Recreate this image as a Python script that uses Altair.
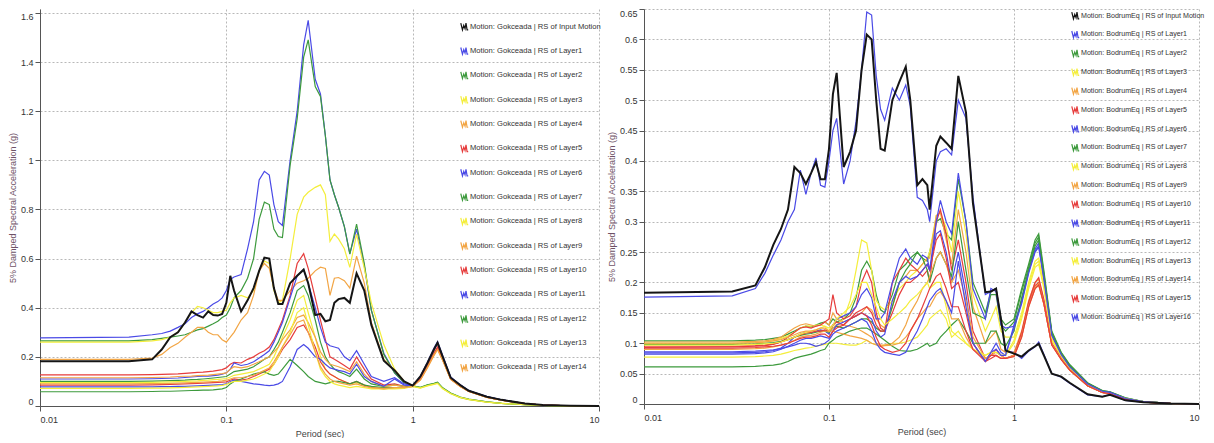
import altair as alt
import pandas as pd

# ---------------- Left panel: Gokceada ----------------
periods_g = [0.01, 0.03, 0.04, 0.045, 0.05, 0.055, 0.06, 0.065, 0.07, 0.075,
             0.08, 0.085, 0.09, 0.095, 0.1, 0.105, 0.11, 0.12, 0.13, 0.14,
             0.15, 0.16, 0.17, 0.18, 0.19, 0.2, 0.22, 0.24, 0.26, 0.275,
             0.3, 0.32, 0.34, 0.36, 0.38, 0.4, 0.43, 0.46, 0.5, 0.55,
             0.6, 0.7, 0.8, 0.9,
             1.0, 1.1, 1.2, 1.3, 1.36, 1.45, 1.6, 1.8, 2.0, 2.5, 3.0, 4.0, 5.0, 7.0, 10.0]

names_g = ["Motion: Gokceada | RS of Input Motion"] + \
          ["Motion: Gokceada | RS of Layer%d" % i for i in range(1, 15)]

input_g = [0.182, 0.182, 0.19, 0.23, 0.28, 0.30, 0.34, 0.385, 0.37, 0.36,
           0.385, 0.37, 0.368, 0.375, 0.42, 0.53, 0.47, 0.385, 0.43, 0.48,
           0.55, 0.604, 0.6, 0.48, 0.415, 0.415, 0.5, 0.53, 0.555, 0.5,
           0.37, 0.375, 0.345, 0.35, 0.42, 0.435, 0.44, 0.42, 0.54, 0.47,
           0.33, 0.184, 0.145, 0.1,
           0.083, 0.12, 0.175, 0.23, 0.258, 0.2, 0.115, 0.085, 0.062, 0.038, 0.025, 0.01, 0.004, 0.001, 0.0]
layer1_g = [0.277, 0.28, 0.29, 0.295, 0.305, 0.32, 0.335, 0.36, 0.375, 0.385,
            0.40, 0.415, 0.425, 0.44, 0.47, 0.515, 0.525, 0.535, 0.64, 0.75,
            0.92, 0.955, 0.94, 0.82, 0.75, 0.735, 1.0, 1.2, 1.47, 1.57,
            1.33, 1.27, 1.1, 0.92, 0.86, 0.81, 0.73, 0.62, 0.72, 0.57,
            0.39, 0.215, 0.135, 0.095,
            0.083, 0.12, 0.178, 0.235, 0.262, 0.205, 0.118, 0.086, 0.063, 0.038, 0.025, 0.01, 0.004, 0.001, 0.0]
layer2_g = [0.265, 0.265, 0.27, 0.275, 0.28, 0.285, 0.29, 0.30, 0.31, 0.315,
            0.325, 0.335, 0.345, 0.36, 0.37, 0.4, 0.44, 0.47, 0.52, 0.6,
            0.76, 0.83, 0.82, 0.72, 0.69, 0.686, 0.98, 1.17, 1.42, 1.49,
            1.3, 1.26, 1.1, 0.92, 0.86, 0.81, 0.73, 0.618, 0.74, 0.58,
            0.39, 0.21, 0.135, 0.095,
            0.082, 0.118, 0.172, 0.228, 0.255, 0.2, 0.114, 0.084, 0.062, 0.037, 0.025, 0.01, 0.004, 0.001, 0.0]
layer3_g = [0.26, 0.26, 0.265, 0.27, 0.28, 0.30, 0.34, 0.38, 0.405, 0.40,
            0.39, 0.38, 0.38, 0.385, 0.39, 0.42, 0.44, 0.45, 0.44, 0.47,
            0.55, 0.59, 0.58, 0.47, 0.42, 0.43, 0.6, 0.78, 0.85, 0.87,
            0.89, 0.9, 0.86, 0.67, 0.70, 0.68, 0.64, 0.564, 0.7, 0.56,
            0.42, 0.25, 0.15, 0.1,
            0.08, 0.11, 0.16, 0.21, 0.235, 0.19, 0.11, 0.08, 0.06, 0.036, 0.024, 0.01, 0.004, 0.001, 0.0]
layer4_g = [0.19, 0.19, 0.195, 0.21, 0.238, 0.255, 0.28, 0.30, 0.32, 0.32,
            0.30, 0.29, 0.29, 0.27, 0.26, 0.28, 0.30, 0.35, 0.38, 0.45,
            0.55, 0.58, 0.56, 0.48, 0.43, 0.43, 0.47, 0.5, 0.51, 0.52,
            0.55, 0.565, 0.56, 0.45, 0.52, 0.523, 0.51, 0.48, 0.61, 0.5,
            0.34, 0.19, 0.145, 0.1,
            0.08, 0.105, 0.155, 0.205, 0.23, 0.185, 0.108, 0.079, 0.059, 0.035, 0.024, 0.01, 0.004, 0.001, 0.0]
layer5_g = [0.127, 0.127, 0.128, 0.129, 0.13, 0.131, 0.133, 0.135, 0.137, 0.138,
            0.14, 0.142, 0.145, 0.148, 0.155, 0.17, 0.178, 0.175, 0.19, 0.2,
            0.215, 0.225, 0.24, 0.27, 0.31, 0.35, 0.45, 0.58, 0.62, 0.56,
            0.44, 0.35, 0.27, 0.2, 0.19, 0.18, 0.165, 0.15, 0.2, 0.15,
            0.11, 0.085, 0.09, 0.08,
            0.082, 0.11, 0.165, 0.215, 0.24, 0.19, 0.11, 0.08, 0.06, 0.036, 0.024, 0.01, 0.004, 0.001, 0.0]
layer6_g = [0.11, 0.11, 0.111, 0.112, 0.113, 0.114, 0.116, 0.118, 0.12, 0.121,
            0.122, 0.124, 0.126, 0.13, 0.135, 0.15, 0.175, 0.165, 0.17, 0.18,
            0.195, 0.21, 0.225, 0.26, 0.3, 0.34, 0.44, 0.53, 0.555, 0.5,
            0.4, 0.32, 0.26, 0.245, 0.24, 0.235, 0.2, 0.185, 0.225, 0.17,
            0.12, 0.1, 0.115, 0.09,
            0.083, 0.118, 0.172, 0.228, 0.255, 0.2, 0.114, 0.084, 0.062, 0.037, 0.025, 0.01, 0.004, 0.001, 0.0]
layer7_g = [0.10, 0.10, 0.101, 0.102, 0.103, 0.104, 0.105, 0.107, 0.108, 0.11,
            0.112, 0.114, 0.116, 0.118, 0.12, 0.13, 0.14, 0.145, 0.15, 0.16,
            0.175, 0.19, 0.2, 0.23, 0.26, 0.3, 0.38, 0.47, 0.49, 0.45,
            0.35, 0.26, 0.2, 0.17, 0.15, 0.14, 0.13, 0.12, 0.15, 0.11,
            0.09, 0.08, 0.085, 0.08,
            0.082, 0.075, 0.085, 0.09, 0.095, 0.072, 0.052, 0.035, 0.027, 0.017, 0.011, 0.005, 0.002, 0.0005, 0.0]
layer8_g = [0.095, 0.095, 0.096, 0.097, 0.098, 0.099, 0.1, 0.101, 0.102, 0.104,
            0.105, 0.107, 0.108, 0.11, 0.112, 0.118, 0.125, 0.13, 0.135, 0.14,
            0.15, 0.16, 0.17, 0.2, 0.24, 0.28, 0.35, 0.43, 0.45, 0.38,
            0.28, 0.2, 0.15, 0.13, 0.12, 0.11, 0.1, 0.09, 0.095, 0.085,
            0.075, 0.07, 0.075, 0.075,
            0.08, 0.073, 0.082, 0.088, 0.092, 0.07, 0.05, 0.034, 0.026, 0.016, 0.011, 0.005, 0.002, 0.0005, 0.0]
layer9_g = [0.115, 0.115, 0.116, 0.117, 0.118, 0.12, 0.121, 0.122, 0.124, 0.125,
            0.126, 0.128, 0.13, 0.132, 0.135, 0.15, 0.16, 0.155, 0.16, 0.17,
            0.18, 0.19, 0.2, 0.22, 0.24, 0.27, 0.31, 0.36, 0.37, 0.34,
            0.28, 0.22, 0.19, 0.17, 0.165, 0.16, 0.15, 0.14, 0.18, 0.13,
            0.1, 0.08, 0.085, 0.08,
            0.08, 0.108, 0.16, 0.21, 0.232, 0.188, 0.11, 0.08, 0.06, 0.036, 0.024, 0.01, 0.004, 0.001, 0.0]
layer10_g = [0.085, 0.085, 0.086, 0.087, 0.088, 0.089, 0.09, 0.091, 0.092, 0.093,
             0.094, 0.095, 0.096, 0.097, 0.098, 0.105, 0.11, 0.105, 0.11, 0.12,
             0.13, 0.14, 0.15, 0.17, 0.2, 0.23, 0.27, 0.32, 0.33, 0.3,
             0.24, 0.18, 0.15, 0.13, 0.12, 0.11, 0.1, 0.09, 0.1, 0.085,
             0.075, 0.07, 0.075, 0.075,
             0.08, 0.11, 0.162, 0.212, 0.238, 0.19, 0.11, 0.08, 0.06, 0.036, 0.024, 0.01, 0.004, 0.001, 0.0]
layer11_g = [0.078, 0.078, 0.078, 0.079, 0.079, 0.08, 0.08, 0.081, 0.082, 0.083,
             0.084, 0.085, 0.086, 0.087, 0.09, 0.1, 0.105, 0.1, 0.095, 0.09,
             0.088, 0.085, 0.083, 0.085, 0.09, 0.1, 0.16, 0.23, 0.25, 0.235,
             0.2, 0.19, 0.17, 0.155, 0.15, 0.145, 0.14, 0.13, 0.17, 0.12,
             0.1, 0.08, 0.11, 0.085,
             0.083, 0.12, 0.175, 0.23, 0.258, 0.2, 0.115, 0.085, 0.062, 0.038, 0.025, 0.01, 0.004, 0.001, 0.0]
layer12_g = [0.058, 0.058, 0.059, 0.06, 0.06, 0.061, 0.062, 0.063, 0.064, 0.065,
             0.065, 0.066, 0.068, 0.07, 0.075, 0.09, 0.1, 0.11, 0.12, 0.13,
             0.135, 0.14, 0.13, 0.125, 0.13, 0.15, 0.19, 0.165, 0.14, 0.12,
             0.1, 0.095, 0.09, 0.095, 0.1, 0.1, 0.095, 0.09, 0.1, 0.085,
             0.08, 0.075, 0.075, 0.075,
             0.082, 0.076, 0.086, 0.092, 0.097, 0.074, 0.053, 0.036, 0.028, 0.017, 0.011, 0.005, 0.002, 0.0005, 0.0]
layer13_g = [0.072, 0.072, 0.073, 0.073, 0.074, 0.075, 0.076, 0.077, 0.078, 0.079,
             0.08, 0.081, 0.082, 0.084, 0.088, 0.095, 0.1, 0.1, 0.105, 0.11,
             0.12, 0.13, 0.14, 0.17, 0.2, 0.24, 0.3, 0.38, 0.4, 0.33,
             0.22, 0.15, 0.12, 0.1, 0.09, 0.085, 0.08, 0.075, 0.08, 0.075,
             0.07, 0.07, 0.07, 0.072,
             0.08, 0.074, 0.083, 0.089, 0.093, 0.071, 0.051, 0.035, 0.027, 0.016, 0.011, 0.005, 0.002, 0.0005, 0.0]
layer14_g = [0.09, 0.09, 0.091, 0.091, 0.092, 0.093, 0.094, 0.095, 0.096, 0.097,
             0.098, 0.099, 0.1, 0.102, 0.105, 0.11, 0.115, 0.115, 0.12, 0.125,
             0.135, 0.145, 0.155, 0.18, 0.21, 0.24, 0.29, 0.34, 0.35, 0.3,
             0.22, 0.16, 0.13, 0.11, 0.1, 0.095, 0.09, 0.085, 0.09, 0.08,
             0.075, 0.072, 0.075, 0.075,
             0.08, 0.106, 0.158, 0.208, 0.23, 0.186, 0.108, 0.079, 0.059, 0.035, 0.024, 0.01, 0.004, 0.001, 0.0]

series_g = [input_g, layer1_g, layer2_g, layer3_g, layer4_g, layer5_g, layer6_g, layer7_g,
            layer8_g, layer9_g, layer10_g, layer11_g, layer12_g, layer13_g, layer14_g]

# ---------------- Right panel: BodrumEq ----------------
periods_b = [0.01, 0.03, 0.04, 0.045, 0.05, 0.055, 0.06, 0.065, 0.07, 0.075,
             0.08, 0.085, 0.09, 0.095, 0.1, 0.105, 0.11, 0.12, 0.13, 0.14,
             0.15, 0.16, 0.17, 0.18, 0.19, 0.2, 0.22, 0.24, 0.26, 0.275,
             0.3, 0.32, 0.34, 0.35, 0.38, 0.4, 0.43, 0.46, 0.5, 0.55,
             0.6, 0.7, 0.75, 0.8, 0.85, 0.9,
             1.0, 1.1, 1.2, 1.3, 1.36, 1.45, 1.6, 1.8, 2.0, 2.5, 3.0, 3.3, 4.0, 5.0, 7.0, 10.0]

names_b = ["Motion: BodrumEq | RS of Input Motion"] + \
          ["Motion: BodrumEq | RS of Layer%d" % i for i in range(1, 17)]

input_b = [0.183, 0.185, 0.195, 0.225, 0.262, 0.288, 0.32, 0.39, 0.38, 0.362,
           0.38, 0.398, 0.37, 0.37, 0.42, 0.51, 0.545, 0.39, 0.415, 0.45,
           0.55, 0.608, 0.6, 0.5, 0.42, 0.417, 0.5, 0.53, 0.555, 0.5,
           0.36, 0.37, 0.36, 0.32, 0.425, 0.44, 0.43, 0.42, 0.54, 0.48,
           0.33, 0.184, 0.185, 0.19, 0.14, 0.088,
           0.083, 0.078, 0.088, 0.095, 0.099, 0.08, 0.05, 0.045, 0.035, 0.016, 0.012, 0.015, 0.006, 0.003, 0.001, 0.0]
layer1_b = [0.176, 0.178, 0.19, 0.215, 0.245, 0.27, 0.3, 0.32, 0.385, 0.345,
            0.38, 0.405, 0.36, 0.357, 0.4, 0.45, 0.47, 0.362, 0.4, 0.465,
            0.55, 0.645, 0.64, 0.54, 0.485, 0.467, 0.52, 0.5, 0.525, 0.49,
            0.34, 0.335, 0.32, 0.30, 0.4, 0.415, 0.42, 0.41, 0.5, 0.47,
            0.34, 0.18, 0.185, 0.19, 0.14, 0.088,
            0.085, 0.075, 0.087, 0.094, 0.102, 0.082, 0.05, 0.044, 0.034, 0.015, 0.012, 0.016, 0.006, 0.003, 0.001, 0.0]
layer2_b = [0.104, 0.104, 0.105, 0.106, 0.108, 0.11, 0.115, 0.12, 0.125, 0.128,
            0.127, 0.13, 0.133, 0.135, 0.13, 0.14, 0.135, 0.14, 0.15, 0.175,
            0.22, 0.235, 0.22, 0.18, 0.155, 0.15, 0.18, 0.22, 0.23, 0.24,
            0.25, 0.24, 0.235, 0.25, 0.3, 0.305, 0.28, 0.27, 0.37, 0.3,
            0.2, 0.15, 0.185, 0.19, 0.14, 0.13,
            0.14, 0.19, 0.23, 0.27, 0.28, 0.22, 0.12, 0.085, 0.065, 0.035, 0.022, 0.02, 0.01, 0.004, 0.001, 0.0]
layer3_b = [0.1, 0.1, 0.101, 0.102, 0.104, 0.108, 0.112, 0.118, 0.125, 0.128,
            0.128, 0.13, 0.13, 0.128, 0.125, 0.13, 0.13, 0.14, 0.17, 0.22,
            0.27, 0.265, 0.22, 0.17, 0.16, 0.155, 0.17, 0.19, 0.2, 0.21,
            0.22, 0.23, 0.24, 0.25, 0.31, 0.315, 0.29, 0.25, 0.35, 0.28,
            0.18, 0.12, 0.14, 0.16, 0.12, 0.11,
            0.11, 0.15, 0.2, 0.235, 0.24, 0.2, 0.11, 0.08, 0.06, 0.032, 0.02, 0.018, 0.009, 0.004, 0.001, 0.0]
layer4_b = [0.102, 0.102, 0.103, 0.104, 0.106, 0.11, 0.118, 0.125, 0.13, 0.132,
            0.13, 0.128, 0.13, 0.135, 0.13, 0.15, 0.14, 0.135, 0.14, 0.145,
            0.15, 0.16, 0.155, 0.14, 0.13, 0.125, 0.16, 0.2, 0.21, 0.22,
            0.22, 0.23, 0.24, 0.24, 0.31, 0.315, 0.27, 0.23, 0.32, 0.25,
            0.16, 0.1, 0.11, 0.12, 0.09, 0.085,
            0.085, 0.12, 0.17, 0.2, 0.205, 0.17, 0.1, 0.075, 0.057, 0.03, 0.019, 0.017, 0.008, 0.003, 0.001, 0.0]
layer5_b = [0.093, 0.094, 0.095, 0.096, 0.098, 0.102, 0.11, 0.118, 0.125, 0.127,
            0.125, 0.128, 0.13, 0.135, 0.14, 0.18, 0.15, 0.14, 0.145, 0.16,
            0.2, 0.22, 0.2, 0.15, 0.125, 0.12, 0.2, 0.22, 0.24, 0.23,
            0.22, 0.21, 0.22, 0.2, 0.3, 0.32, 0.28, 0.22, 0.27, 0.2,
            0.12, 0.075, 0.08, 0.09, 0.08, 0.075,
            0.08, 0.115, 0.165, 0.195, 0.2, 0.165, 0.098, 0.074, 0.056, 0.03, 0.019, 0.017, 0.008, 0.003, 0.001, 0.0]
layer6_b = [0.084, 0.084, 0.085, 0.086, 0.088, 0.092, 0.1, 0.11, 0.115, 0.118,
            0.117, 0.12, 0.122, 0.12, 0.115, 0.13, 0.14, 0.145, 0.15, 0.16,
            0.18, 0.19, 0.175, 0.14, 0.14, 0.15, 0.2, 0.24, 0.255, 0.24,
            0.23, 0.245, 0.24, 0.22, 0.28, 0.285, 0.25, 0.2, 0.25, 0.18,
            0.1, 0.07, 0.085, 0.1, 0.085, 0.08,
            0.13, 0.17, 0.22, 0.255, 0.265, 0.21, 0.115, 0.082, 0.062, 0.033, 0.021, 0.019, 0.009, 0.004, 0.001, 0.0]
layer7_b = [0.098, 0.098, 0.099, 0.1, 0.101, 0.103, 0.106, 0.11, 0.113, 0.115,
            0.116, 0.118, 0.12, 0.12, 0.118, 0.125, 0.128, 0.125, 0.13, 0.135,
            0.14, 0.14, 0.135, 0.125, 0.12, 0.12, 0.16, 0.2, 0.22, 0.23,
            0.25, 0.24, 0.22, 0.2, 0.24, 0.25, 0.23, 0.21, 0.3, 0.22,
            0.15, 0.14, 0.18, 0.18, 0.13, 0.12,
            0.135, 0.185, 0.225, 0.265, 0.275, 0.215, 0.118, 0.084, 0.064, 0.034, 0.022, 0.02, 0.01, 0.004, 0.001, 0.0]
layer8_b = [0.077, 0.077, 0.078, 0.079, 0.08, 0.082, 0.085, 0.088, 0.09, 0.092,
            0.093, 0.095, 0.097, 0.098, 0.1, 0.1, 0.1, 0.098, 0.097, 0.097,
            0.1, 0.105, 0.1, 0.098, 0.095, 0.097, 0.1, 0.1, 0.102, 0.105,
            0.11, 0.12, 0.13, 0.14, 0.15, 0.155, 0.14, 0.11, 0.12, 0.1,
            0.09, 0.08, 0.085, 0.085, 0.08, 0.08,
            0.1, 0.14, 0.19, 0.225, 0.23, 0.19, 0.105, 0.078, 0.058, 0.031, 0.02, 0.018, 0.009, 0.004, 0.001, 0.0]
layer9_b = [0.09, 0.09, 0.091, 0.092, 0.094, 0.097, 0.1, 0.105, 0.11, 0.112,
            0.113, 0.115, 0.118, 0.12, 0.12, 0.125, 0.13, 0.13, 0.128, 0.125,
            0.12, 0.115, 0.11, 0.1, 0.097, 0.097, 0.1, 0.11, 0.13, 0.15,
            0.17, 0.19, 0.2, 0.21, 0.24, 0.25, 0.23, 0.2, 0.22, 0.17,
            0.11, 0.075, 0.08, 0.085, 0.08, 0.075,
            0.078, 0.11, 0.16, 0.19, 0.195, 0.165, 0.098, 0.074, 0.056, 0.03, 0.019, 0.017, 0.008, 0.003, 0.001, 0.0]
layer10_b = [0.095, 0.095, 0.096, 0.097, 0.099, 0.102, 0.106, 0.11, 0.114, 0.117,
             0.118, 0.12, 0.12, 0.122, 0.12, 0.13, 0.135, 0.13, 0.14, 0.15,
             0.155, 0.16, 0.15, 0.13, 0.12, 0.12, 0.15, 0.18, 0.2, 0.2,
             0.21, 0.22, 0.23, 0.22, 0.27, 0.28, 0.24, 0.19, 0.2, 0.15,
             0.1, 0.07, 0.075, 0.08, 0.075, 0.075,
             0.08, 0.118, 0.168, 0.2, 0.208, 0.172, 0.1, 0.075, 0.057, 0.03, 0.019, 0.017, 0.008, 0.003, 0.001, 0.0]
layer11_b = [0.082, 0.082, 0.083, 0.084, 0.086, 0.09, 0.095, 0.1, 0.105, 0.108,
             0.108, 0.11, 0.112, 0.11, 0.108, 0.12, 0.13, 0.135, 0.14, 0.145,
             0.15, 0.145, 0.14, 0.12, 0.11, 0.115, 0.17, 0.2, 0.21, 0.205,
             0.21, 0.22, 0.23, 0.22, 0.3, 0.335, 0.3, 0.28, 0.38, 0.3,
             0.19, 0.14, 0.19, 0.185, 0.13, 0.125,
             0.128, 0.168, 0.218, 0.252, 0.26, 0.208, 0.114, 0.082, 0.062, 0.033, 0.021, 0.019, 0.009, 0.004, 0.001, 0.0]
layer12_b = [0.061, 0.061, 0.062, 0.063, 0.064, 0.066, 0.07, 0.075, 0.078, 0.08,
             0.082, 0.085, 0.088, 0.09, 0.1, 0.105, 0.11, 0.115, 0.12, 0.123,
             0.125, 0.125, 0.12, 0.115, 0.11, 0.105, 0.095, 0.088, 0.087, 0.087,
             0.09, 0.095, 0.1, 0.095, 0.1, 0.11, 0.12, 0.13, 0.14, 0.12,
             0.1, 0.1, 0.12, 0.12, 0.1, 0.095,
             0.12, 0.175, 0.22, 0.26, 0.27, 0.212, 0.116, 0.083, 0.063, 0.034, 0.021, 0.019, 0.009, 0.004, 0.001, 0.0]
layer13_b = [0.097, 0.097, 0.098, 0.099, 0.1, 0.102, 0.106, 0.11, 0.115, 0.118,
             0.12, 0.122, 0.125, 0.128, 0.12, 0.13, 0.14, 0.15, 0.16, 0.18,
             0.2, 0.2, 0.18, 0.16, 0.14, 0.13, 0.14, 0.15, 0.16, 0.17,
             0.18, 0.19, 0.2, 0.19, 0.2, 0.2, 0.16, 0.12, 0.11, 0.1,
             0.09, 0.08, 0.085, 0.085, 0.08, 0.08,
             0.105, 0.145, 0.195, 0.23, 0.235, 0.195, 0.108, 0.079, 0.059, 0.031, 0.02, 0.018, 0.009, 0.004, 0.001, 0.0]
layer14_b = [0.1, 0.1, 0.101, 0.102, 0.104, 0.106, 0.11, 0.114, 0.118, 0.12,
             0.12, 0.122, 0.125, 0.125, 0.12, 0.12, 0.118, 0.115, 0.112, 0.11,
             0.108, 0.105, 0.1, 0.097, 0.095, 0.096, 0.097, 0.1, 0.11, 0.12,
             0.14, 0.15, 0.16, 0.16, 0.18, 0.185, 0.17, 0.14, 0.14, 0.11,
             0.09, 0.075, 0.08, 0.08, 0.075, 0.075,
             0.08, 0.112, 0.162, 0.192, 0.198, 0.166, 0.098, 0.074, 0.056, 0.03, 0.019, 0.017, 0.008, 0.003, 0.001, 0.0]
layer15_b = [0.092, 0.092, 0.093, 0.094, 0.095, 0.097, 0.1, 0.104, 0.108, 0.11,
             0.11, 0.112, 0.115, 0.115, 0.11, 0.12, 0.125, 0.13, 0.14, 0.145,
             0.15, 0.145, 0.13, 0.11, 0.095, 0.09, 0.085, 0.088, 0.1, 0.12,
             0.14, 0.16, 0.18, 0.19, 0.21, 0.215, 0.19, 0.16, 0.16, 0.12,
             0.09, 0.07, 0.08, 0.08, 0.075, 0.075,
             0.078, 0.11, 0.16, 0.19, 0.196, 0.165, 0.097, 0.073, 0.056, 0.03, 0.019, 0.017, 0.008, 0.003, 0.001, 0.0]
layer16_b = [0.086, 0.086, 0.087, 0.088, 0.089, 0.091, 0.094, 0.097, 0.1, 0.1,
             0.098, 0.095, 0.097, 0.1, 0.105, 0.115, 0.12, 0.125, 0.13, 0.135,
             0.14, 0.135, 0.12, 0.1, 0.09, 0.085, 0.082, 0.08, 0.085, 0.1,
             0.12, 0.14, 0.16, 0.17, 0.185, 0.19, 0.17, 0.15, 0.235, 0.16,
             0.1, 0.07, 0.085, 0.09, 0.08, 0.08,
             0.125, 0.165, 0.215, 0.25, 0.258, 0.206, 0.113, 0.081, 0.061, 0.033, 0.021, 0.019, 0.009, 0.004, 0.001, 0.0]

series_b = [input_b, layer1_b, layer2_b, layer3_b, layer4_b, layer5_b, layer6_b, layer7_b, layer8_b,
            layer9_b, layer10_b, layer11_b, layer12_b, layer13_b, layer14_b, layer15_b, layer16_b]

# Colours (input motion black, then layer cycle)
BLACK, BLUE, GREEN, YELLOW, ORANGE, RED = "#151515", "#4a4ae6", "#3d9a3d", "#f4ee3c", "#f2a544", "#e63c3c"
cycle = [BLUE, GREEN, YELLOW, ORANGE, RED]
colors_g = [BLACK] + [cycle[i % 5] for i in range(14)]
colors_b = [BLACK] + [cycle[i % 5] for i in range(16)]

yticks_g = [0, 0.2, 0.4, 0.6, 0.8, 1.0, 1.2, 1.4, 1.6]
yticks_b = [0, 0.05, 0.1, 0.15, 0.2, 0.25, 0.3, 0.35, 0.4, 0.45, 0.5, 0.55, 0.6, 0.65]
xticks = [0.01, 0.1, 1, 10]

FONT = "Liberation Sans"
SQUIGGLE = "M-1,-0.9L-0.55,0.9L-0.2,-0.3L0.15,0.6L0.4,-0.9L0.7,0.9L1,0.9"


def frame(periods, names, series):
    rows = []
    for name, vals in zip(names, series):
        assert len(vals) == len(periods), (name, len(vals), len(periods))
        for p, v in zip(periods, vals):
            rows.append({"period": p, "sa": v, "series": name})
    return pd.DataFrame(rows)


def panel(df, names, colors, yticks, ymax, width, height, lx, ly, row_pad, lab_size):
    legend = alt.Legend(
        title=None, orient="none", legendX=lx, legendY=ly,
        symbolType=SQUIGGLE, symbolSize=55, symbolStrokeWidth=1.2,
        labelFont=FONT, labelFontSize=lab_size, labelColor="#333333",
        labelLimit=0, rowPadding=row_pad, labelOffset=1,
    )
    base = alt.Chart(df).encode(
        x=alt.X("period:Q",
                scale=alt.Scale(type="log", domain=[0.01, 10]),
                axis=alt.Axis(values=xticks, format="~g", title="Period (sec)", labelFlush=True)),
        y=alt.Y("sa:Q",
                scale=alt.Scale(domain=[0, ymax]),
                axis=alt.Axis(values=yticks, format="~g", labelFlush=6,
                              title="5% Damped Spectral Acceleration (g)",
                              titleColor="#6e5266")),
        color=alt.Color("series:N", scale=alt.Scale(domain=names, range=colors), legend=legend),
    )
    layers = base.transform_filter(alt.datum.series != names[0]).mark_line(strokeWidth=1.2)
    top = base.transform_filter(alt.datum.series == names[0]).mark_line(strokeWidth=2)
    return alt.layer(layers, top).properties(width=width, height=height)


left = panel(frame(periods_g, names_g, series_g), names_g, colors_g, yticks_g, 1.616,
             559, 397, 420, 13, 11.35, 7.6)
right = panel(frame(periods_b, names_b, series_b), names_b, colors_b, yticks_b, 0.65,
              555, 395, 427, 2, 5.85, 7.1)

chart = alt.hconcat(left, right, spacing=4).resolve_scale(color="independent").configure(
    padding=0,
).configure_view(stroke=None).configure_axis(
    labelFont=FONT, titleFont=FONT, labelFontSize=9, titleFontSize=9,
    labelColor="#333333", titleColor="#444444", titleFontWeight="normal",
    gridDash=[2, 2], gridColor="#b8b8b8", domainColor="#555555", tickColor="#555555",
    tickSize=5, labelPadding=2,
).configure_axisY(titlePadding=3).configure_axisX(titlePadding=5, labelPadding=4)

chart.save("out.html", embed_options={"renderer": "svg", "actions": False})
